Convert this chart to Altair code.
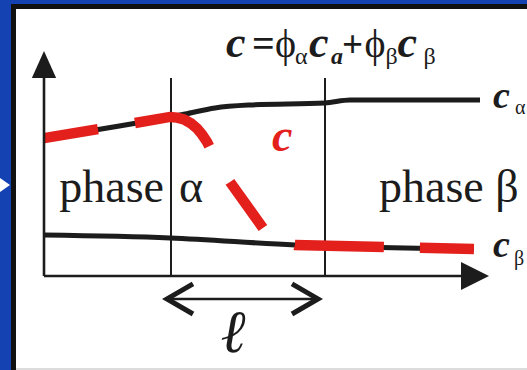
import altair as alt
import pandas as pd

# Distance along the specimen (arbitrary units) and concentration (fraction)
calpha_x = [0, 25.2, 28.2, 34.2, 41.2, 56.2, 61.2, 87.2]
calpha_y = [0.613, 0.707, 0.720, 0.747, 0.760, 0.769, 0.782, 0.782]

cbeta_x = [0, 25.2, 50.2, 86]
cbeta_y = [0.182, 0.169, 0.138, 0.120]

# overall concentration profile c
c_x = [0, 10.8, 18.2, 25.2, 26.6, 28.0, 29.4, 30.6, 31.6, 32.6, 33.6,
       37.2, 43.8, 46.8, 50.2, 86]
c_y = [0.613, 0.653, 0.680, 0.707, 0.704, 0.696, 0.678, 0.656, 0.629,
       0.596, 0.551, 0.418, 0.213, 0.160, 0.138, 0.120]

# interface region boundaries and its width
interfaces = [25.4, 56.2]
interface_top = 0.88
ell_span = [24.6, 54.8]
ell_level = -0.102

# axis extents
x_axis_end = 86.2
y_axis_end = 0.94

# text pieces: text, x, y
title_bold = [("c", 36.4, 0.973), ("c", 53.0, 0.973), ("c", 70.7, 0.973)]
title_bold_sub = [("a", 57.4, 0.942)]
title_ops = [("=", 41.6, 0.973), ("+", 59.6, 0.973)]
title_phi = [("ϕ", 46.2, 0.973), ("ϕ", 64.1, 0.973)]
title_sub = [("α", 50.2, 0.942), ("β", 68.3, 0.942), ("β", 75.9, 0.942)]
phase_left = [("phase", 24.0, 0.329)]
phase_alpha = [("α", 27.0, 0.329)]
phase_right = [("phase β", 67.0, 0.329)]
end_labels = [("c", 89.8, 0.747), ("c", 89.8, 0.084)]
end_subs = [("α", 94.2, 0.72), ("β", 94.0, 0.05)]
c_label = [("c", 45.6, 0.556)]
ell_label = [("ℓ", 37.8, -0.338)]

BLUE = "#1542b2"
INK = "#1c1c1c"
RED = "#e3201c"
SERIF = "Liberation Serif"

XS = alt.Scale(domain=[0, 89], nice=False, zero=False)
YS = alt.Scale(domain=[0, 1], nice=False, zero=False)


def xq(f):
    return alt.X(f, type="quantitative", scale=XS, axis=None)


def yq(f):
    return alt.Y(f, type="quantitative", scale=YS, axis=None)


def frame_df():
    return pd.DataFrame({"k": [0]})


def texts(rows, size, color=INK, style="normal", weight="normal", align="left"):
    df = pd.DataFrame(rows, columns=["t", "x", "y"])
    return alt.Chart(df).mark_text(
        font=SERIF, fontSize=size, fontStyle=style, fontWeight=weight,
        color=color, align=align, baseline="alphabetic"
    ).encode(x=xq("x"), y=yq("y"), text="t:N")


# page frame: blue background, black edge, white sheet
edge = alt.Chart(frame_df()).mark_rect(color="#111111").encode(
    x=alt.value(-33), x2=alt.value(483), y=alt.value(-47), y2=alt.value(319))
sheet = alt.Chart(frame_df()).mark_rect(color="#ffffff").encode(
    x=alt.value(-28), x2=alt.value(483), y=alt.value(-42), y2=alt.value(317))
foot = alt.Chart(frame_df()).mark_rect(color="#dcdcdc").encode(
    x=alt.value(-28), x2=alt.value(483), y=alt.value(317), y2=alt.value(319))
pointer = alt.Chart(frame_df()).mark_point(
    shape="M-1,-1.4L1,0L-1,1.4Z", filled=True, color="#ffffff", opacity=1,
    size=100, strokeWidth=0
).encode(x=alt.value(-39), y=alt.value(134))

# axes
axes_df = pd.DataFrame({"x": [0, 0], "x2": [0, x_axis_end - 2.6],
                        "y": [0, 0], "y2": [y_axis_end - 0.06, 0]})
axes = alt.Chart(axes_df).mark_rule(color=INK, strokeWidth=2.6).encode(
    x=xq("x"), x2="x2", y=yq("y"), y2="y2")
up_head = alt.Chart(pd.DataFrame({"x": [0], "y": [y_axis_end]})).mark_point(
    shape="M0,-1L0.9,1L-0.9,1Z", filled=True, color=INK, opacity=1,
    size=729, strokeWidth=0).encode(x=xq("x"), y=yq("y"))
right_head = alt.Chart(pd.DataFrame({"x": [x_axis_end], "y": [0]})).mark_point(
    shape="M1,0L-1,-1L-1,1Z", filled=True, color=INK, opacity=1,
    size=784, strokeWidth=0).encode(x=xq("x"), y=yq("y"))

# interface boundaries
bounds = alt.Chart(pd.DataFrame({"x": interfaces})).mark_rule(
    color=INK, strokeWidth=2).encode(
    x=xq("x"), y=alt.Y("top:Q", scale=YS, axis=None), y2="bottom:Q"
).transform_calculate(top=str(interface_top), bottom="0")

# phase compositions
calpha = alt.Chart(pd.DataFrame({"x": calpha_x, "y": calpha_y})).mark_line(
    color=INK, strokeWidth=5, interpolate="monotone").encode(x=xq("x"), y=yq("y"))
cbeta = alt.Chart(pd.DataFrame({"x": cbeta_x, "y": cbeta_y})).mark_line(
    color=INK, strokeWidth=5, interpolate="monotone").encode(x=xq("x"), y=yq("y"))

c_df = pd.DataFrame({"x": c_x, "y": c_y, "i": range(len(c_x))})
cline = alt.Chart(c_df).mark_line(
    color=RED, strokeWidth=10.5, strokeCap="butt",
    strokeDash=[54.7, 37.5, 87.4, 41.3, 56.6, 36.9, 89, 36, 54.1, 200]
).encode(x=xq("x"), y=yq("y"), order="i:Q")

# interface width marker
ell_df = pd.DataFrame({"x": [ell_span[0]], "x2": [ell_span[1]], "y": [ell_level]})
ell_line = alt.Chart(ell_df).mark_rule(color=INK, strokeWidth=2.6).encode(
    x=xq("x"), x2="x2", y=yq("y"))
left_tip = alt.Chart(pd.DataFrame({"x": [ell_span[0]], "y": [ell_level]})).mark_point(
    shape="M1,-0.58L0,0L1,0.58", filled=False, color=INK, opacity=1,
    size=2704, strokeWidth=5).encode(x=xq("x"), y=yq("y"))
right_tip = alt.Chart(pd.DataFrame({"x": [ell_span[1]], "y": [ell_level]})).mark_point(
    shape="M-1,-0.58L0,0L-1,0.58", filled=False, color=INK, opacity=1,
    size=2704, strokeWidth=5).encode(x=xq("x"), y=yq("y"))

layers = [
    edge, sheet, foot, pointer,
    bounds, calpha, cbeta, cline, axes, up_head, right_head,
    ell_line, left_tip, right_tip,
    texts(title_bold, 44, style="italic", weight="bold"),
    texts(title_bold_sub, 24, style="italic", weight="bold"),
    texts(title_ops[:1], 40, weight="bold"),
    texts(title_ops[1:], 37, weight="bold"),
    texts(title_phi, 40),
    texts(title_sub, 24),
    texts(phase_left, 46, align="right"),
    texts(phase_alpha, 46),
    texts(phase_right, 46),
    texts(end_labels, 38, style="italic", weight="bold"),
    texts(end_subs, 20),
    texts(c_label, 46, color=RED, style="italic", weight="bold"),
    texts(ell_label, 60, style="italic", align="center"),
]

chart = alt.layer(*layers).properties(
    width=445, height=225,
    background=BLUE,
    padding={"left": 44, "top": 51, "right": 38, "bottom": 94},
    autosize=alt.AutoSizeParams(type="none"),
).configure_view(stroke=None)

chart.save("out.html", embed_options={"renderer": "svg", "actions": False})
